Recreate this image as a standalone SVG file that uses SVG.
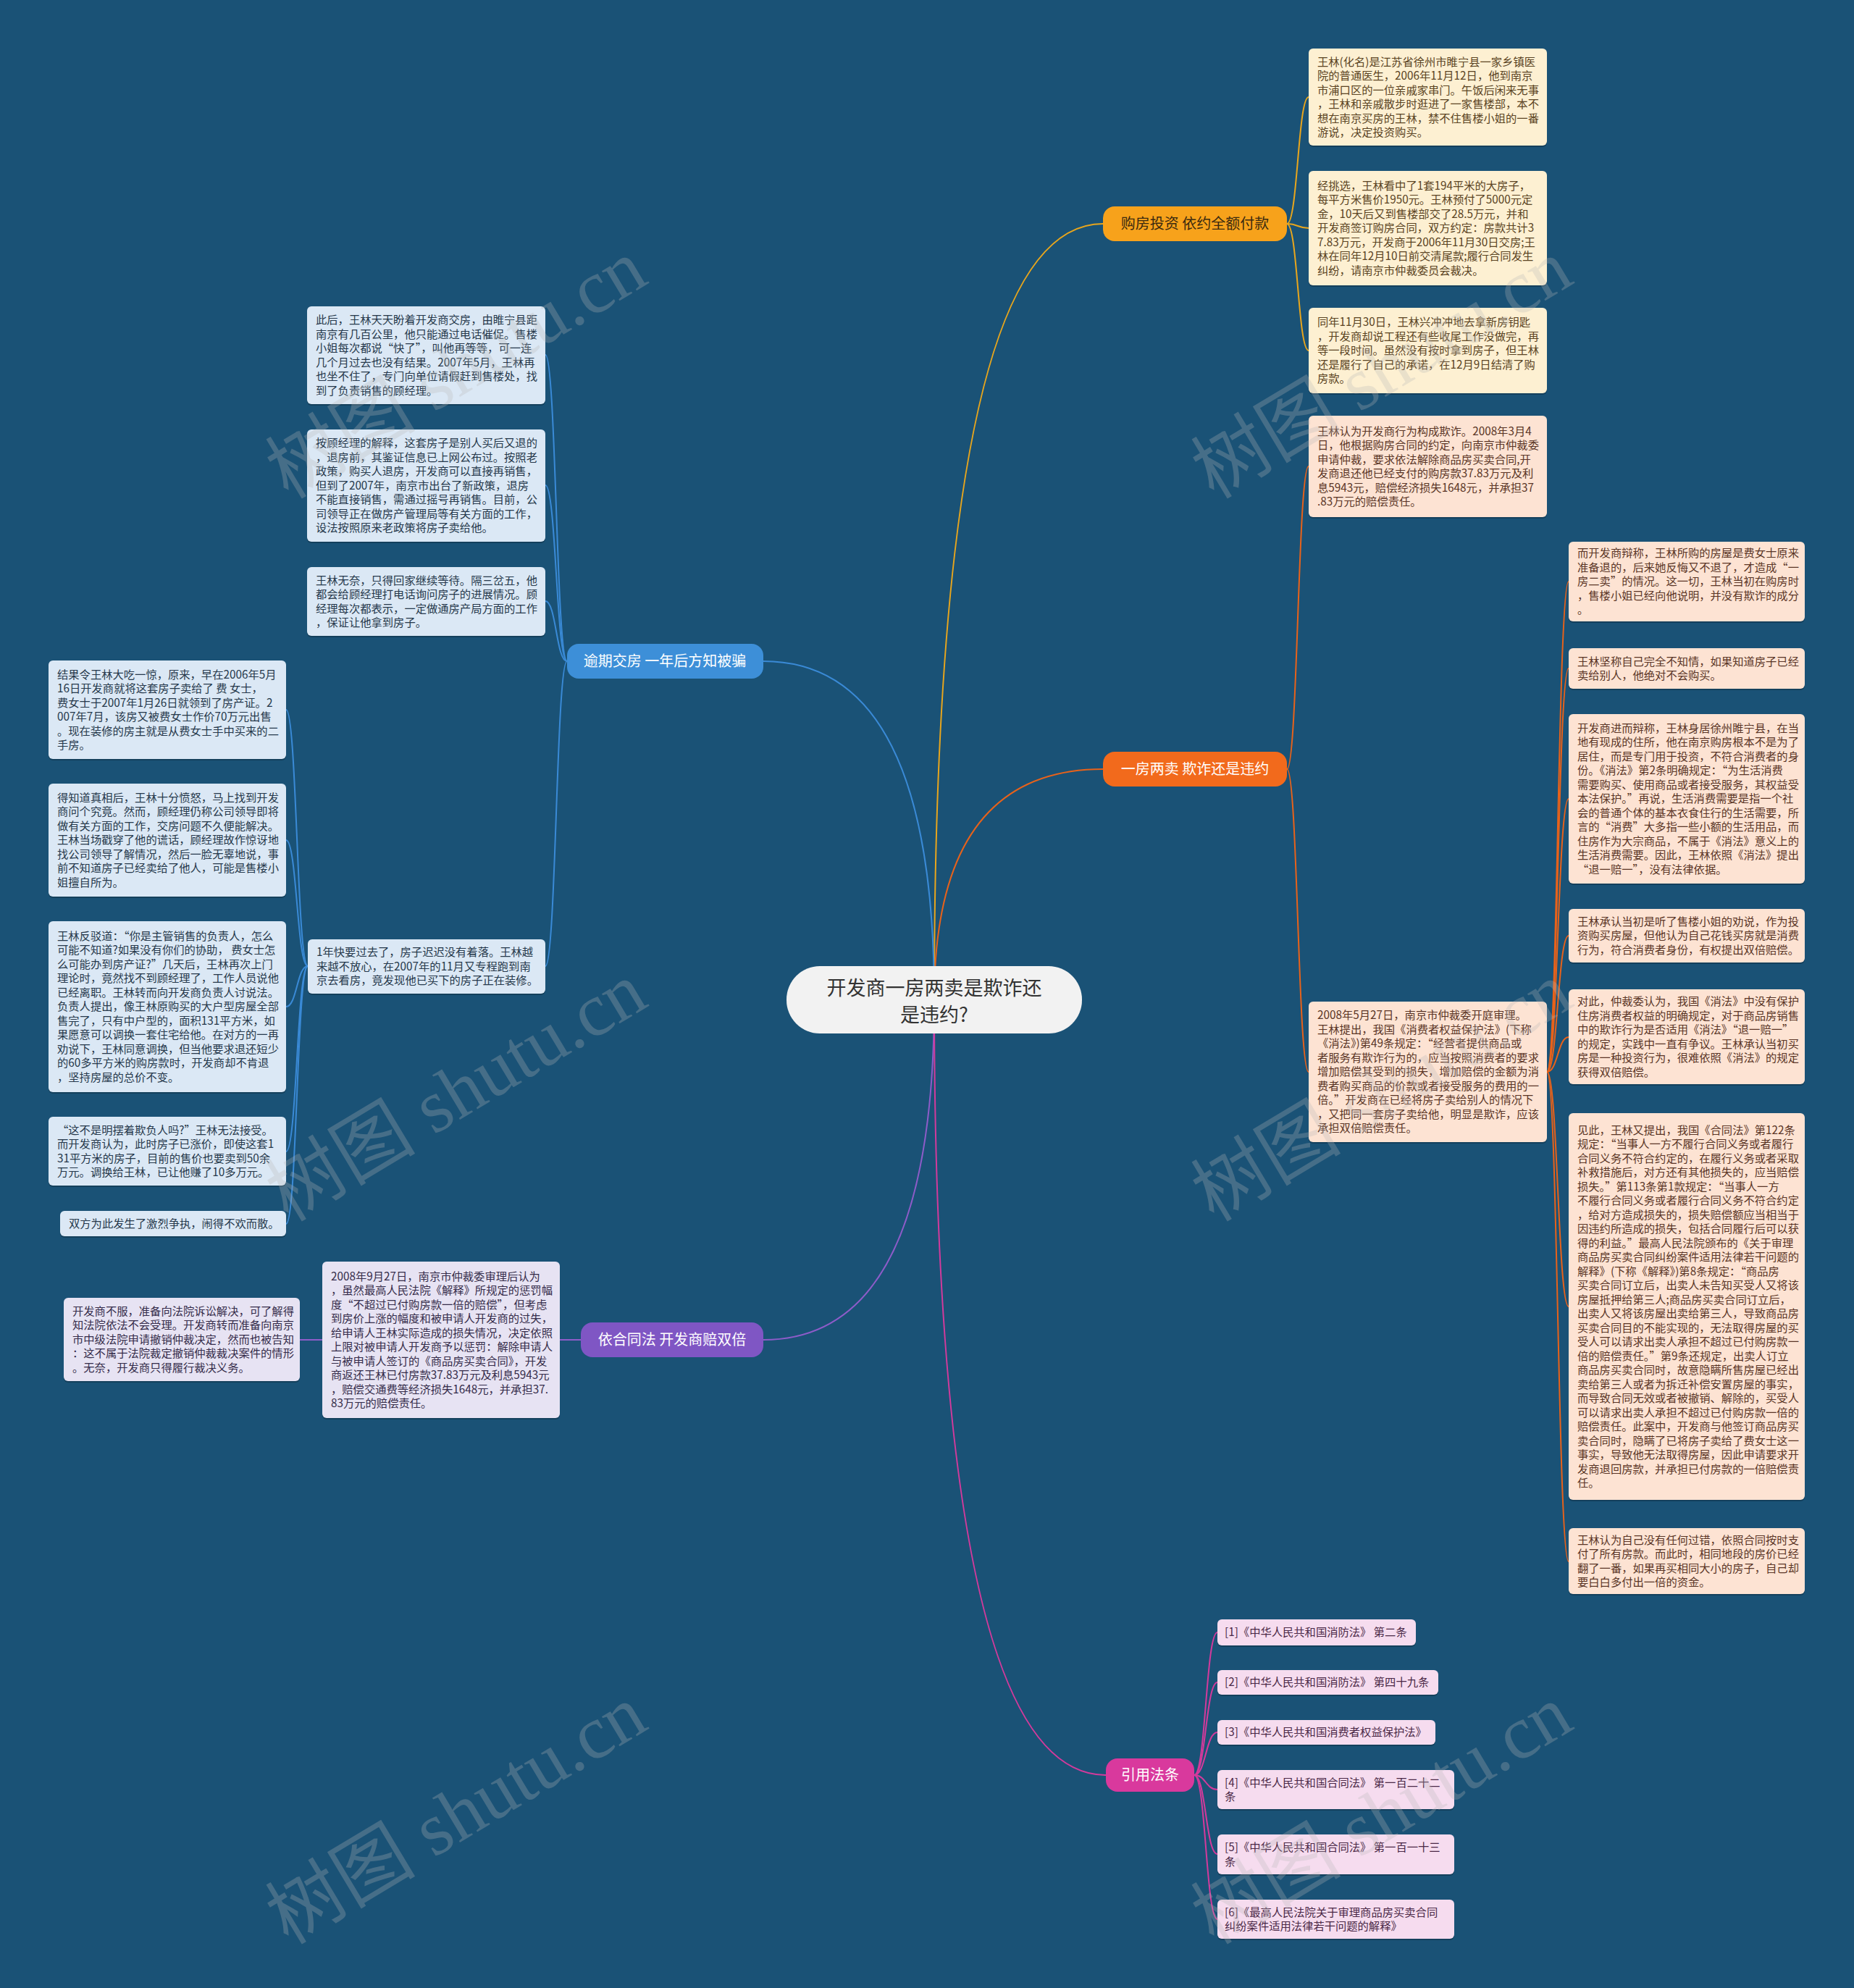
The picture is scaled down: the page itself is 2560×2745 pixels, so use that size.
<svg xmlns="http://www.w3.org/2000/svg" width="2560" height="2745" viewBox="0 0 2560 2745">
<style>
.t{font-family:"Noto Sans CJK SC","Liberation Sans",sans-serif;font-size:15.3px}
.bn{font-family:"Noto Sans CJK SC","Liberation Sans",sans-serif;font-size:20px;text-anchor:middle}
.sh{fill:#000;opacity:.22}
.y{fill:#fdf0d2}.yt{fill:#5a4322}
.o{fill:#fde3d3}.ot{fill:#5a3526}
.l{fill:#dbe8f5}.lt{fill:#26384b}
.p{fill:#e7e3f3}.pt{fill:#352c4a}
.m{fill:#f6dcef}.mt{fill:#4a2846}
.c{fill:none;stroke-width:2}
.wm{font-family:"Liberation Serif","Noto Sans CJK SC",serif;font-size:104px;fill:#b8b8b8;opacity:.28}
</style>
<rect width="2560" height="2745" fill="#1a5276"/>
<g id="connectors">
<path class="c" stroke="#e9a61c" stroke-width="3" d="M1290,1380 Q1290,309 1523,309"/>
<path class="c" stroke="#e8621a" stroke-width="3" d="M1290,1380 Q1290,1062 1523,1062"/>
<path class="c" stroke="#3a8ad6" stroke-width="3" d="M1290,1380 Q1290,913 1054,913"/>
<path class="c" stroke="#8e5cc9" stroke-width="3" d="M1290,1380 Q1290,1850 1054,1850"/>
<path class="c" stroke="#d43a9c" stroke-width="3" d="M1290,1380 Q1290,2451 1527,2451"/>
<g stroke="#e9a61c">
<path class="c" d="M1777,309 C1792,309 1792,134 1807,134"/>
<path class="c" d="M1777,309 C1792,309 1792,315 1807,315"/>
<path class="c" d="M1777,309 C1792,309 1792,484 1807,484"/>
</g>
<g stroke="#e8621a">
<path class="c" d="M1777,1062 C1792,1062 1792,644 1807,644"/>
<path class="c" d="M1777,1062 C1792,1062 1792,1480 1807,1480"/>
<path class="c" d="M2136,1480 C2151,1480 2151,803 2166,803"/>
<path class="c" d="M2136,1480 C2151,1480 2151,923 2166,923"/>
<path class="c" d="M2136,1480 C2151,1480 2151,1103 2166,1103"/>
<path class="c" d="M2136,1480 C2151,1480 2151,1292 2166,1292"/>
<path class="c" d="M2136,1480 C2151,1480 2151,1432 2166,1432"/>
<path class="c" d="M2136,1480 C2151,1480 2151,1804 2166,1804"/>
<path class="c" d="M2136,1480 C2151,1480 2151,2156 2166,2156"/>
</g>
<g stroke="#3a8ad6">
<path class="c" d="M783,913 C768,913 768,490 753,490"/>
<path class="c" d="M783,913 C768,913 768,670 753,670"/>
<path class="c" d="M783,913 C768,913 768,830 753,830"/>
<path class="c" d="M783,913 C768,913 768,1334 753,1334"/>
<path class="c" d="M425,1334 C410,1334 410,980 395,980"/>
<path class="c" d="M425,1334 C410,1334 410,1160 395,1160"/>
<path class="c" d="M425,1334 C410,1334 410,1390 395,1390"/>
<path class="c" d="M425,1334 C410,1334 410,1590 395,1590"/>
<path class="c" d="M425,1334 C410,1334 410,1690 395,1690"/>
</g>
<g stroke="#8e5cc9">
<path class="c" d="M802,1850 L773,1850"/>
<path class="c" d="M445,1850 L414,1850"/>
</g>
<g stroke="#d43a9c">
<path class="c" d="M1649,2451 C1665,2451 1665,2254 1681,2254"/>
<path class="c" d="M1649,2451 C1665,2451 1665,2323 1681,2323"/>
<path class="c" d="M1649,2451 C1665,2451 1665,2392 1681,2392"/>
<path class="c" d="M1649,2451 C1665,2451 1665,2471 1681,2471"/>
<path class="c" d="M1649,2451 C1665,2451 1665,2560 1681,2560"/>
<path class="c" d="M1649,2451 C1665,2451 1665,2650 1681,2650"/>
</g>
</g>

<g id="center">
<rect x="1086" y="1334" width="408" height="93" rx="46" fill="#f2f2f2"/>
<text class="bn" x="1290" y="1374" style="font-size:27px" fill="#333">开发商一房两卖是欺诈还</text>
<text class="bn" x="1290" y="1411" style="font-size:27px" fill="#333">是违约?</text>
</g>

<g id="b-invest"><rect x="1523" y="285" width="254" height="48" rx="16" fill="#f7a21b"/><text class="bn" x="1650" y="316" fill="#3a2a10">购房投资 依约全额付款</text></g>
<g id="b-fraud"><rect x="1523" y="1038" width="254" height="48" rx="16" fill="#f26a1c"/><text class="bn" x="1650" y="1069" fill="#fff">一房两卖 欺诈还是违约</text></g>
<g id="b-late"><rect x="783" y="889" width="271" height="48" rx="16" fill="#3d8fd8"/><text class="bn" x="918" y="920" fill="#fff">逾期交房 一年后方知被骗</text></g>
<g id="b-double"><rect x="802" y="1826" width="252" height="48" rx="16" fill="#7f56c4"/><text class="bn" x="928" y="1857" fill="#fff">依合同法 开发商赔双倍</text></g>
<g id="b-law"><rect x="1527" y="2428" width="122" height="46" rx="16" fill="#d9399d"/><text class="bn" x="1588" y="2458" fill="#fff">引用法条</text></g>

<g id="y1"><rect class="sh" x="1807" y="69" width="329" height="134" rx="6"/><rect class="y" x="1807" y="67" width="329" height="134" rx="6"/>
<text class="t yt" x="1819" y="90.5"><tspan x="1819">王林(化名)是江苏省徐州市睢宁县一家乡镇医</tspan><tspan x="1819" dy="19.5">院的普通医生，2006年11月12日，他到南京</tspan><tspan x="1819" dy="19.5">市浦口区的一位亲戚家串门。午饭后闲来无事</tspan><tspan x="1819" dy="19.5">，王林和亲戚散步时逛进了一家售楼部，本不</tspan><tspan x="1819" dy="19.5">想在南京买房的王林，禁不住售楼小姐的一番</tspan><tspan x="1819" dy="19.5">游说，决定投资购买。</tspan></text></g>
<g id="y2"><rect class="sh" x="1807" y="238" width="329" height="158" rx="6"/><rect class="y" x="1807" y="236" width="329" height="158" rx="6"/>
<text class="t yt" x="1819" y="261.75"><tspan x="1819">经挑选，王林看中了1套194平米的大房子，</tspan><tspan x="1819" dy="19.5">每平方米售价1950元。王林预付了5000元定</tspan><tspan x="1819" dy="19.5">金，10天后又到售楼部交了28.5万元，并和</tspan><tspan x="1819" dy="19.5">开发商签订购房合同，双方约定：房款共计3</tspan><tspan x="1819" dy="19.5">7.83万元，开发商于2006年11月30日交房;王</tspan><tspan x="1819" dy="19.5">林在同年12月10日前交清尾款;履行合同发生</tspan><tspan x="1819" dy="19.5">纠纷，请南京市仲裁委员会裁决。</tspan></text></g>
<g id="y3"><rect class="sh" x="1807" y="427" width="329" height="118" rx="6"/><rect class="y" x="1807" y="425" width="329" height="118" rx="6"/>
<text class="t yt" x="1819" y="450.25"><tspan x="1819">同年11月30日，王林兴冲冲地去拿新房钥匙</tspan><tspan x="1819" dy="19.5">，开发商却说工程还有些收尾工作没做完，再</tspan><tspan x="1819" dy="19.5">等一段时间。虽然没有按时拿到房子，但王林</tspan><tspan x="1819" dy="19.5">还是履行了自己的承诺，在12月9日结清了购</tspan><tspan x="1819" dy="19.5">房款。</tspan></text></g>

<g id="o1"><rect class="sh" x="1807" y="576" width="329" height="140" rx="6"/><rect class="o" x="1807" y="574" width="329" height="140" rx="6"/>
<text class="t ot" x="1819" y="600.5"><tspan x="1819">王林认为开发商行为构成欺诈。2008年3月4</tspan><tspan x="1819" dy="19.5">日，他根据购房合同的约定，向南京市仲裁委</tspan><tspan x="1819" dy="19.5">申请仲裁，要求依法解除商品房买卖合同,开</tspan><tspan x="1819" dy="19.5">发商退还他已经支付的购房款37.83万元及利</tspan><tspan x="1819" dy="19.5">息5943元，赔偿经济损失1648元，并承担37</tspan><tspan x="1819" dy="19.5">.83万元的赔偿责任。</tspan></text></g>
<g id="o2"><rect class="sh" x="1807" y="1385" width="329" height="194" rx="6"/><rect class="o" x="1807" y="1383" width="329" height="194" rx="6"/>
<text class="t ot" x="1819" y="1407.25"><tspan x="1819">2008年5月27日，南京市仲裁委开庭审理。</tspan><tspan x="1819" dy="19.5">王林提出，我国《消费者权益保护法》(下称</tspan><tspan x="1819" dy="19.5">《消法》)第49条规定：“经营者提供商品或</tspan><tspan x="1819" dy="19.5">者服务有欺诈行为的，应当按照消费者的要求</tspan><tspan x="1819" dy="19.5">增加赔偿其受到的损失，增加赔偿的金额为消</tspan><tspan x="1819" dy="19.5">费者购买商品的价款或者接受服务的费用的一</tspan><tspan x="1819" dy="19.5">倍。”开发商在已经将房子卖给别人的情况下</tspan><tspan x="1819" dy="19.5">，又把同一套房子卖给他，明显是欺诈，应该</tspan><tspan x="1819" dy="19.5">承担双倍赔偿责任。</tspan></text></g>

<g id="r1"><rect class="sh" x="2166" y="750" width="326" height="110" rx="6"/><rect class="o" x="2166" y="748" width="326" height="110" rx="6"/>
<text class="t ot" x="2178" y="769.25"><tspan x="2178">而开发商辩称，王林所购的房屋是费女士原来</tspan><tspan x="2178" dy="19.5">准备退的，后来她反悔又不退了，才造成“一</tspan><tspan x="2178" dy="19.5">房二卖”的情况。这一切，王林当初在购房时</tspan><tspan x="2178" dy="19.5">，售楼小姐已经向他说明，并没有欺诈的成分</tspan><tspan x="2178" dy="19.5">。</tspan></text></g>
<g id="r2"><rect class="sh" x="2166" y="897" width="326" height="56" rx="6"/><rect class="o" x="2166" y="895" width="326" height="56" rx="6"/>
<text class="t ot" x="2178" y="918.5"><tspan x="2178">王林坚称自己完全不知情，如果知道房子已经</tspan><tspan x="2178" dy="19.5">卖给别人，他绝对不会购买。</tspan></text></g>
<g id="r3"><rect class="sh" x="2166" y="988" width="326" height="234" rx="6"/><rect class="o" x="2166" y="986" width="326" height="234" rx="6"/>
<text class="t ot" x="2178" y="1010.75"><tspan x="2178">开发商进而辩称，王林身居徐州睢宁县，在当</tspan><tspan x="2178" dy="19.5">地有现成的住所，他在南京购房根本不是为了</tspan><tspan x="2178" dy="19.5">居住，而是专门用于投资，不符合消费者的身</tspan><tspan x="2178" dy="19.5">份。《消法》第2条明确规定：“为生活消费</tspan><tspan x="2178" dy="19.5">需要购买、使用商品或者接受服务，其权益受</tspan><tspan x="2178" dy="19.5">本法保护。”再说，生活消费需要是指一个社</tspan><tspan x="2178" dy="19.5">会的普通个体的基本衣食住行的生活需要，所</tspan><tspan x="2178" dy="19.5">言的“消费”大多指一些小额的生活用品，而</tspan><tspan x="2178" dy="19.5">住房作为大宗商品，不属于《消法》意义上的</tspan><tspan x="2178" dy="19.5">生活消费需要。因此，王林依照《消法》提出</tspan><tspan x="2178" dy="19.5">“退一赔一”，没有法律依据。</tspan></text></g>
<g id="r4"><rect class="sh" x="2166" y="1257" width="326" height="74" rx="6"/><rect class="o" x="2166" y="1255" width="326" height="74" rx="6"/>
<text class="t ot" x="2178" y="1277.75"><tspan x="2178">王林承认当初是听了售楼小姐的劝说，作为投</tspan><tspan x="2178" dy="19.5">资购买房屋，但他认为自己花钱买房就是消费</tspan><tspan x="2178" dy="19.5">行为，符合消费者身份，有权提出双倍赔偿。</tspan></text></g>
<g id="r5"><rect class="sh" x="2166" y="1368" width="326" height="131" rx="6"/><rect class="o" x="2166" y="1366" width="326" height="131" rx="6"/>
<text class="t ot" x="2178" y="1388"><tspan x="2178">对此，仲裁委认为，我国《消法》中没有保护</tspan><tspan x="2178" dy="19.5">住房消费者权益的明确规定，对于商品房销售</tspan><tspan x="2178" dy="19.5">中的欺诈行为是否适用《消法》“退一赔一”</tspan><tspan x="2178" dy="19.5">的规定，实践中一直有争议。王林承认当初买</tspan><tspan x="2178" dy="19.5">房是一种投资行为，很难依照《消法》的规定</tspan><tspan x="2178" dy="19.5">获得双倍赔偿。</tspan></text></g>
<g id="r6"><rect class="sh" x="2166" y="1539" width="326" height="534" rx="6"/><rect class="o" x="2166" y="1537" width="326" height="534" rx="6"/>
<text class="t ot" x="2178" y="1565.5"><tspan x="2178">见此，王林又提出，我国《合同法》第122条</tspan><tspan x="2178" dy="19.5">规定：“当事人一方不履行合同义务或者履行</tspan><tspan x="2178" dy="19.5">合同义务不符合约定的，在履行义务或者采取</tspan><tspan x="2178" dy="19.5">补救措施后，对方还有其他损失的，应当赔偿</tspan><tspan x="2178" dy="19.5">损失。”第113条第1款规定：“当事人一方</tspan><tspan x="2178" dy="19.5">不履行合同义务或者履行合同义务不符合约定</tspan><tspan x="2178" dy="19.5">，给对方造成损失的，损失赔偿额应当相当于</tspan><tspan x="2178" dy="19.5">因违约所造成的损失，包括合同履行后可以获</tspan><tspan x="2178" dy="19.5">得的利益。”最高人民法院颁布的《关于审理</tspan><tspan x="2178" dy="19.5">商品房买卖合同纠纷案件适用法律若干问题的</tspan><tspan x="2178" dy="19.5">解释》(下称《解释》)第8条规定：“商品房</tspan><tspan x="2178" dy="19.5">买卖合同订立后，出卖人未告知买受人又将该</tspan><tspan x="2178" dy="19.5">房屋抵押给第三人;商品房买卖合同订立后，</tspan><tspan x="2178" dy="19.5">出卖人又将该房屋出卖给第三人，导致商品房</tspan><tspan x="2178" dy="19.5">买卖合同目的不能实现的，无法取得房屋的买</tspan><tspan x="2178" dy="19.5">受人可以请求出卖人承担不超过已付购房款一</tspan><tspan x="2178" dy="19.5">倍的赔偿责任。”第9条还规定，出卖人订立</tspan><tspan x="2178" dy="19.5">商品房买卖合同时，故意隐瞒所售房屋已经出</tspan><tspan x="2178" dy="19.5">卖给第三人或者为拆迁补偿安置房屋的事实，</tspan><tspan x="2178" dy="19.5">而导致合同无效或者被撤销、解除的，买受人</tspan><tspan x="2178" dy="19.5">可以请求出卖人承担不超过已付购房款一倍的</tspan><tspan x="2178" dy="19.5">赔偿责任。此案中，开发商与他签订商品房买</tspan><tspan x="2178" dy="19.5">卖合同时，隐瞒了已将房子卖给了费女士这一</tspan><tspan x="2178" dy="19.5">事实，导致他无法取得房屋，因此申请要求开</tspan><tspan x="2178" dy="19.5">发商退回房款，并承担已付房款的一倍赔偿责</tspan><tspan x="2178" dy="19.5">任。</tspan></text></g>
<g id="r7"><rect class="sh" x="2166" y="2112" width="326" height="91" rx="6"/><rect class="o" x="2166" y="2110" width="326" height="91" rx="6"/>
<text class="t ot" x="2178" y="2131.5"><tspan x="2178">王林认为自己没有任何过错，依照合同按时支</tspan><tspan x="2178" dy="19.5">付了所有房款。而此时，相同地段的房价已经</tspan><tspan x="2178" dy="19.5">翻了一番，如果再买相同大小的房子，自己却</tspan><tspan x="2178" dy="19.5">要白白多付出一倍的资金。</tspan></text></g>

<g id="l1"><rect class="sh" x="424" y="425" width="329" height="135" rx="6"/><rect class="l" x="424" y="423" width="329" height="135" rx="6"/>
<text class="t lt" x="436" y="447"><tspan x="436">此后，王林天天盼着开发商交房，由睢宁县距</tspan><tspan x="436" dy="19.5">南京有几百公里，他只能通过电话催促。售楼</tspan><tspan x="436" dy="19.5">小姐每次都说“快了”，叫他再等等，可一连</tspan><tspan x="436" dy="19.5">几个月过去也没有结果。2007年5月，王林再</tspan><tspan x="436" dy="19.5">也坐不住了，专门向单位请假赶到售楼处，找</tspan><tspan x="436" dy="19.5">到了负责销售的顾经理。</tspan></text></g>
<g id="l2"><rect class="sh" x="424" y="595" width="329" height="155" rx="6"/><rect class="l" x="424" y="593" width="329" height="155" rx="6"/>
<text class="t lt" x="436" y="617.25"><tspan x="436">按顾经理的解释，这套房子是别人买后又退的</tspan><tspan x="436" dy="19.5">，退房前，其鉴证信息已上网公布过。按照老</tspan><tspan x="436" dy="19.5">政策，购买人退房，开发商可以直接再销售，</tspan><tspan x="436" dy="19.5">但到了2007年，南京市出台了新政策，退房</tspan><tspan x="436" dy="19.5">不能直接销售，需通过摇号再销售。目前，公</tspan><tspan x="436" dy="19.5">司领导正在做房产管理局等有关方面的工作，</tspan><tspan x="436" dy="19.5">设法按照原来老政策将房子卖给他。</tspan></text></g>
<g id="l3"><rect class="sh" x="424" y="785" width="329" height="95" rx="6"/><rect class="l" x="424" y="783" width="329" height="95" rx="6"/>
<text class="t lt" x="436" y="806.5"><tspan x="436">王林无奈，只得回家继续等待。隔三岔五，他</tspan><tspan x="436" dy="19.5">都会给顾经理打电话询问房子的进展情况。顾</tspan><tspan x="436" dy="19.5">经理每次都表示，一定做通房产局方面的工作</tspan><tspan x="436" dy="19.5">，保证让他拿到房子。</tspan></text></g>
<g id="l4"><rect class="sh" x="425" y="1299" width="328" height="75" rx="6"/><rect class="l" x="425" y="1297" width="328" height="75" rx="6"/>
<text class="t lt" x="437" y="1320.25"><tspan x="437">1年快要过去了，房子迟迟没有着落。王林越</tspan><tspan x="437" dy="19.5">来越不放心，在2007年的11月又专程跑到南</tspan><tspan x="437" dy="19.5">京去看房，竟发现他已买下的房子正在装修。</tspan></text></g>

<g id="ll1"><rect class="sh" x="67" y="914" width="328" height="136" rx="6"/><rect class="l" x="67" y="912" width="328" height="136" rx="6"/>
<text class="t lt" x="79" y="936.5"><tspan x="79">结果令王林大吃一惊，原来，早在2006年5月</tspan><tspan x="79" dy="19.5">16日开发商就将这套房子卖给了 费 女士，</tspan><tspan x="79" dy="19.5">费女士于2007年1月26日就领到了房产证。2</tspan><tspan x="79" dy="19.5">007年7月，该房又被费女士作价70万元出售</tspan><tspan x="79" dy="19.5">。现在装修的房主就是从费女士手中买来的二</tspan><tspan x="79" dy="19.5">手房。</tspan></text></g>
<g id="ll2"><rect class="sh" x="67" y="1084" width="328" height="156" rx="6"/><rect class="l" x="67" y="1082" width="328" height="156" rx="6"/>
<text class="t lt" x="79" y="1106.75"><tspan x="79">得知道真相后，王林十分愤怒，马上找到开发</tspan><tspan x="79" dy="19.5">商问个究竟。然而，顾经理仍称公司领导即将</tspan><tspan x="79" dy="19.5">做有关方面的工作，交房问题不久便能解决。</tspan><tspan x="79" dy="19.5">王林当场戳穿了他的谎话，顾经理故作惊讶地</tspan><tspan x="79" dy="19.5">找公司领导了解情况，然后一脸无辜地说，事</tspan><tspan x="79" dy="19.5">前不知道房子已经卖给了他人，可能是售楼小</tspan><tspan x="79" dy="19.5">姐擅自所为。</tspan></text></g>
<g id="ll3"><rect class="sh" x="67" y="1274" width="328" height="236" rx="6"/><rect class="l" x="67" y="1272" width="328" height="236" rx="6"/>
<text class="t lt" x="79" y="1297.75"><tspan x="79">王林反驳道：“你是主管销售的负责人，怎么</tspan><tspan x="79" dy="19.5">可能不知道?如果没有你们的协助， 费女士怎</tspan><tspan x="79" dy="19.5">么可能办到房产证?”几天后，王林再次上门</tspan><tspan x="79" dy="19.5">理论时，竟然找不到顾经理了，工作人员说他</tspan><tspan x="79" dy="19.5">已经离职。王林转而向开发商负责人讨说法。</tspan><tspan x="79" dy="19.5">负责人提出，像王林原购买的大户型房屋全部</tspan><tspan x="79" dy="19.5">售完了，只有中户型的，面积131平方米，如</tspan><tspan x="79" dy="19.5">果愿意可以调换一套住宅给他。在对方的一再</tspan><tspan x="79" dy="19.5">劝说下，王林同意调换，但当他要求退还短少</tspan><tspan x="79" dy="19.5">的60多平方米的购房款时，开发商却不肯退</tspan><tspan x="79" dy="19.5">，坚持房屋的总价不变。</tspan></text></g>
<g id="ll4"><rect class="sh" x="67" y="1544" width="328" height="95" rx="6"/><rect class="l" x="67" y="1542" width="328" height="95" rx="6"/>
<text class="t lt" x="79" y="1565.5"><tspan x="79">“这不是明摆着欺负人吗?”王林无法接受。</tspan><tspan x="79" dy="19.5">而开发商认为，此时房子已涨价，即使这套1</tspan><tspan x="79" dy="19.5">31平方米的房子，目前的售价也要卖到50余</tspan><tspan x="79" dy="19.5">万元。调换给王林，已让他赚了10多万元。</tspan></text></g>
<g id="ll5"><rect class="sh" x="83" y="1674" width="312" height="35" rx="6"/><rect class="l" x="83" y="1672" width="312" height="35" rx="6"/>
<text class="t lt" x="95" y="1694.75">双方为此发生了激烈争执，闹得不欢而散。</text></g>

<g id="p1"><rect class="sh" x="445" y="1744" width="328" height="216" rx="6"/><rect class="p" x="445" y="1742" width="328" height="216" rx="6"/>
<text class="t pt" x="457" y="1767.5"><tspan x="457">2008年9月27日，南京市仲裁委审理后认为</tspan><tspan x="457" dy="19.5">，虽然最高人民法院《解释》所规定的惩罚幅</tspan><tspan x="457" dy="19.5">度“不超过已付购房款一倍的赔偿”，但考虑</tspan><tspan x="457" dy="19.5">到房价上涨的幅度和被申请人开发商的过失，</tspan><tspan x="457" dy="19.5">给申请人王林实际造成的损失情况，决定依照</tspan><tspan x="457" dy="19.5">上限对被申请人开发商予以惩罚：解除申请人</tspan><tspan x="457" dy="19.5">与被申请人签订的《商品房买卖合同》，开发</tspan><tspan x="457" dy="19.5">商返还王林已付房款37.83万元及利息5943元</tspan><tspan x="457" dy="19.5">，赔偿交通费等经济损失1648元，并承担37.</tspan><tspan x="457" dy="19.5">83万元的赔偿责任。</tspan></text></g>
<g id="p2"><rect class="sh" x="88" y="1794" width="326" height="115" rx="6"/><rect class="p" x="88" y="1792" width="326" height="115" rx="6"/>
<text class="t pt" x="100" y="1815.75"><tspan x="100">开发商不服，准备向法院诉讼解决，可了解得</tspan><tspan x="100" dy="19.5">知法院依法不会受理。开发商转而准备向南京</tspan><tspan x="100" dy="19.5">市中级法院申请撤销仲裁决定，然而也被告知</tspan><tspan x="100" dy="19.5">：这不属于法院裁定撤销仲裁裁决案件的情形</tspan><tspan x="100" dy="19.5">。无奈，开发商只得履行裁决义务。</tspan></text></g>

<g id="ref1"><rect class="sh" x="1681" y="2238" width="274" height="36" rx="6"/><rect class="m" x="1681" y="2236" width="274" height="36" rx="6"/><text class="t mt" x="1691" y="2259.25">[1]《中华人民共和国消防法》 第二条</text></g>
<g id="ref2"><rect class="sh" x="1681" y="2308" width="305" height="34" rx="6"/><rect class="m" x="1681" y="2306" width="305" height="34" rx="6"/><text class="t mt" x="1691" y="2328.25">[2]《中华人民共和国消防法》 第四十九条</text></g>
<g id="ref3"><rect class="sh" x="1681" y="2377" width="301" height="34" rx="6"/><rect class="m" x="1681" y="2375" width="301" height="34" rx="6"/><text class="t mt" x="1691" y="2397.25">[3]《中华人民共和国消费者权益保护法》</text></g>
<g id="ref4"><rect class="sh" x="1681" y="2446" width="327" height="54" rx="6"/><rect class="m" x="1681" y="2444" width="327" height="54" rx="6"/><text class="t mt" x="1691" y="2466.5"><tspan x="1691">[4]《中华人民共和国合同法》 第一百二十二</tspan><tspan x="1691" dy="19.5">条</tspan></text></g>
<g id="ref5"><rect class="sh" x="1681" y="2535" width="327" height="55" rx="6"/><rect class="m" x="1681" y="2533" width="327" height="55" rx="6"/><text class="t mt" x="1691" y="2556"><tspan x="1691">[5]《中华人民共和国合同法》 第一百一十三</tspan><tspan x="1691" dy="19.5">条</tspan></text></g>
<g id="ref6"><rect class="sh" x="1681" y="2625" width="327" height="54" rx="6"/><rect class="m" x="1681" y="2623" width="327" height="54" rx="6"/><text class="t mt" x="1691" y="2645.5"><tspan x="1691">[6]《最高人民法院关于审理商品房买卖合同</tspan><tspan x="1691" dy="19.5">纠纷案件适用法律若干问题的解释》</tspan></text></g>

<g id="watermark">
<text class="wm" text-anchor="middle" transform="translate(648,540) rotate(-31)">树图 shutu.cn</text>
<text class="wm" text-anchor="middle" transform="translate(1926,540) rotate(-31)">树图 shutu.cn</text>
<text class="wm" text-anchor="middle" transform="translate(648,1538) rotate(-31)">树图 shutu.cn</text>
<text class="wm" text-anchor="middle" transform="translate(1926,1538) rotate(-31)">树图 shutu.cn</text>
<text class="wm" text-anchor="middle" transform="translate(648,2536) rotate(-31)">树图 shutu.cn</text>
<text class="wm" text-anchor="middle" transform="translate(1926,2536) rotate(-31)">树图 shutu.cn</text>
</g>
</svg>
